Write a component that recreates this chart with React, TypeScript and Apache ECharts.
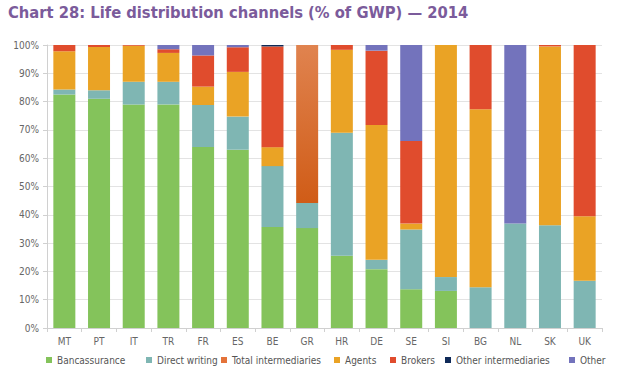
import React, { useEffect, useRef } from "react";
import * as echarts from "echarts";

const categories = ["MT", "PT", "IT", "TR", "FR", "ES", "BE", "GR", "HR", "DE", "SE", "SI", "BG", "NL", "SK", "UK"];
const bancassurance = [82.5, 81, 79, 79, 64, 63, 35.7, 35.3, 25.5, 20.8, 13.7, 13.1, 0, 0, 0, 0];
const directWriting = [1.8, 3, 8, 8, 14.8, 11.7, 21.5, 8.9, 43.5, 3.3, 21.1, 4.9, 14.4, 36.9, 36.3, 16.7];
const totalIntermediaries = [0, 0, 0, 0, 0, 0, 0, 55.8, 0, 0, 0, 0, 0, 0, 0, 0];
const agents = [13.5, 15.3, 12.7, 10.2, 6.5, 15.8, 6.7, 0, 29.3, 47.6, 2.1, 82, 62.9, 0, 63.2, 22.8];
const brokers = [2.2, 0.7, 0.3, 1.3, 11, 8.7, 35.6, 0, 1.7, 26.3, 29.2, 0, 22.7, 0, 0.5, 60.5];
const otherIntermediaries = [0, 0, 0, 0, 0, 0, 0.5, 0, 0, 0, 0, 0, 0, 0, 0, 0];
const other = [0, 0, 0, 1.5, 3.7, 0.8, 0, 0, 0, 2, 33.9, 0, 0, 63.1, 0, 0];

const seriesNames = ["Bancassurance", "Direct writing", "Total intermediaries", "Agents", "Brokers", "Other intermediaries", "Other"];
const legendLefts = [46, 146, 221, 334, 390, 445, 569];

const NARROW = "'Liberation Sans Narrow', 'DejaVu Sans Condensed', sans-serif";

export default function App() {
  const ref = useRef<HTMLDivElement>(null);
  useEffect(() => {
    if (!ref.current) return;
    const chart = echarts.init(ref.current, undefined, { renderer: "svg" });
    const mk = (name: string, data: number[], color: any) => ({
      name,
      type: "bar",
      stack: "total",
      data,
      barWidth: 22,
      itemStyle: { color },
    });
    const gradient = new echarts.graphic.LinearGradient(0, 0, 0, 1, [
      { offset: 0, color: "#e0834f" },
      { offset: 1, color: "#d05c17" },
    ]);
    const legendColors: Record<string, string> = { "Total intermediaries": "#e4733a" };
    chart.setOption({
      animation: false,
      title: {
        text: "Chart 28: Life distribution channels (% of GWP) — 2014",
        left: 8,
        top: 4,
        padding: 0,
        textStyle: { color: "#7b5b9b", fontSize: 16.4, fontWeight: "bold", fontFamily: NARROW },
      },
      legend: seriesNames.map((n, i) => ({
        top: 355,
        left: legendLefts[i],
        itemWidth: 6,
        itemHeight: 6,
        padding: 0,
        icon: "rect",
        textStyle: { color: "#555", fontSize: 10, fontFamily: NARROW },
        data: [legendColors[n] ? { name: n, itemStyle: { color: legendColors[n] } } : { name: n }],
      })),
      grid: { left: 47, right: 19, top: 45, bottom: 55 },
      xAxis: {
        type: "category",
        data: categories,
        axisLine: { lineStyle: { color: "#d0d0d0" } },
        axisTick: { show: true, length: 4, lineStyle: { color: "#d0d0d0" } },
        axisLabel: { color: "#666", fontSize: 10, fontFamily: NARROW, margin: 8 },
      },
      yAxis: {
        type: "value",
        min: 0,
        max: 100,
        interval: 10,
        axisLine: { show: true, lineStyle: { color: "#d0d0d0" } },
        axisTick: { show: true, length: 4, lineStyle: { color: "#d0d0d0" } },
        axisLabel: { color: "#666", fontSize: 10, fontFamily: NARROW, formatter: "{value}%", margin: 8 },
        splitLine: { lineStyle: { color: "#e3e3e3" } },
      },
      series: [
        mk(seriesNames[0], bancassurance, "#84c35b"),
        mk(seriesNames[1], directWriting, "#7fb6b3"),
        mk(seriesNames[2], totalIntermediaries, gradient),
        mk(seriesNames[3], agents, "#eaa325"),
        mk(seriesNames[4], brokers, "#e04c2d"),
        mk(seriesNames[5], otherIntermediaries, "#0f2a58"),
        mk(seriesNames[6], other, "#7373bc"),
      ],
    });
    return () => chart.dispose();
  }, []);
  return <div ref={ref} style={{ position: "absolute", left: 0, top: 0, width: 621, height: 383 }} />;
}
